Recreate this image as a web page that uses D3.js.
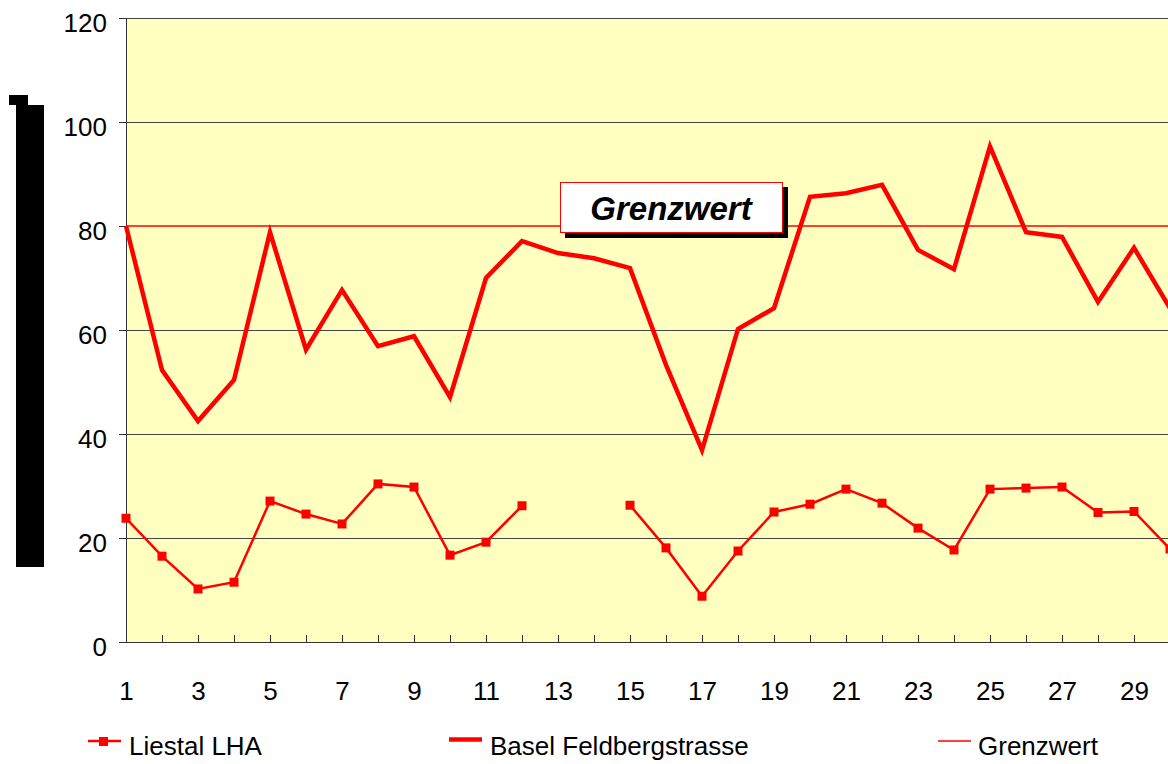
<!DOCTYPE html>
<html>
<head>
<meta charset="utf-8">
<script src="https://cdn.jsdelivr.net/npm/d3@7"></script>
<style>
  body { margin: 0; background: #fff; }
  svg { display: block; font-family: Arial, "Liberation Sans", sans-serif; }
</style>
</head>
<body>
<div id="chart"></div>
<script>
// days of the month
const days = d3.range(1, 31);
const xTickLabels = [1, 3, 5, 7, 9, 11, 13, 15, 17, 19, 21, 23, 25, 27, 29];
const yTicks = [0, 20, 40, 60, 80, 100, 120];

// Liestal LHA (null = no measurement)
const liestal = [23.8, 16.5, 10.2, 11.5, 27.1, 24.6, 22.7, 30.4, 29.8, 16.7,
  19.2, 26.2, null, null, 26.3, 18.1, 8.8, 17.5, 25.0, 26.5,
  29.4, 26.7, 21.9, 17.7, 29.4, 29.6, 29.8, 24.9, 25.1, 17.9];

// Basel Feldbergstrasse
const basel = [80.0, 52.3, 42.5, 50.4, 78.8, 56.2, 67.7, 56.9, 58.8, 47.1,
  70.0, 77.1, 74.8, 73.8, 71.9, 53.3, 36.9, 60.2, 64.2, 85.6,
  86.3, 87.9, 75.4, 71.7, 95.3, 78.8, 77.9, 65.4, 75.8, 64.2];

const grenzwert = 80;

const width = 1168, height = 764;
const plotLeft = 126, plotTop = 18, plotBottom = 642;

const svg = d3.select("#chart").append("svg")
  .attr("width", width)
  .attr("height", height);

const x = d3.scaleLinear().domain([1, 30]).range([plotLeft, plotLeft + 29 * 36]);
const y = d3.scaleLinear().domain([0, 120]).range([plotBottom, plotTop]);

// plot background
svg.append("rect")
  .attr("x", plotLeft).attr("y", plotTop)
  .attr("width", width - plotLeft + 10).attr("height", plotBottom - plotTop)
  .attr("fill", "#ffffc0");

// black block left of the axis
svg.append("rect").attr("x", 9).attr("y", 95).attr("width", 19).attr("height", 10).attr("fill", "#000");
svg.append("rect").attr("x", 16).attr("y", 105).attr("width", 28).attr("height", 462).attr("fill", "#000");

// gridlines
svg.append("g")
  .selectAll("line")
  .data(yTicks.filter(d => d > 0 && d !== grenzwert))
  .join("line")
  .attr("x1", plotLeft).attr("x2", width)
  .attr("y1", d => y(d) + 0.5).attr("y2", d => y(d) + 0.5)
  .attr("stroke", "#444")
  .attr("stroke-width", 1);

// y axis
const yAxis = svg.append("g")
  .attr("transform", `translate(${plotLeft},0)`)
  .call(d3.axisLeft(y).tickValues(yTicks).tickSize(7).tickPadding(12));
yAxis.select(".domain").attr("stroke", "#333").attr("d", `M0.5,${plotTop}V${plotBottom}`);
yAxis.selectAll(".tick line").attr("stroke", "#333");
yAxis.selectAll("text")
  .attr("font-size", 26).attr("fill", "#000")
  .attr("font-family", "Arial, 'Liberation Sans', sans-serif")
  .attr("dy", "0.5em");

// x axis, ticks inside
const xAxis = svg.append("g")
  .attr("transform", `translate(0,${plotBottom})`)
  .call(d3.axisBottom(x).tickValues(days).tickSize(-7).tickFormat(d => xTickLabels.includes(d) ? d : ""));
xAxis.select(".domain").attr("stroke", "#333").attr("d", `M${plotLeft},0.5H${width}`);
xAxis.selectAll(".tick line").attr("stroke", "#333");
xAxis.selectAll("text")
  .attr("font-size", 26).attr("fill", "#000")
  .attr("font-family", "Arial, 'Liberation Sans', sans-serif")
  .attr("y", 58).attr("dy", 0);

// Grenzwert line
svg.append("path")
  .datum(days)
  .attr("fill", "none")
  .attr("stroke", "#ff0000")
  .attr("stroke-width", 1.5)
  .attr("d", d3.line().x(d => x(d)).y(() => y(grenzwert)));

// Basel line
svg.append("path")
  .datum(basel)
  .attr("fill", "none")
  .attr("stroke", "#ff0000")
  .attr("stroke-width", 4.5)
  .attr("stroke-linejoin", "miter")
  .attr("d", d3.line().x((d, i) => x(days[i])).y(d => y(d)));

// Liestal line + markers
svg.append("path")
  .datum(liestal)
  .attr("fill", "none")
  .attr("stroke", "#ff0000")
  .attr("stroke-width", 2.5)
  .attr("d", d3.line().defined(d => d !== null).x((d, i) => x(days[i])).y(d => y(d)));

svg.append("g")
  .selectAll("rect")
  .data(liestal.map((v, i) => ({ day: days[i], v })).filter(d => d.v !== null))
  .join("rect")
  .attr("x", d => x(d.day) - 4.5)
  .attr("y", d => y(d.v) - 4.5)
  .attr("width", 9).attr("height", 9)
  .attr("fill", "#ff0000");

// Grenzwert label box
const box = svg.append("g");
box.append("rect").attr("x", 565).attr("y", 187).attr("width", 223).attr("height", 51).attr("fill", "#000");
box.append("rect").attr("x", 560.5).attr("y", 182.5).attr("width", 222).attr("height", 50)
  .attr("fill", "#fff").attr("stroke", "#ff0000").attr("stroke-width", 1);
box.append("text")
  .attr("x", 671).attr("y", 220)
  .attr("text-anchor", "middle")
  .attr("font-size", 33).attr("font-weight", "bold").attr("font-style", "italic")
  .text("Grenzwert");

// legend
const legend = svg.append("g").attr("font-size", 26);
legend.append("line").attr("x1", 88).attr("x2", 121).attr("y1", 741).attr("y2", 741)
  .attr("stroke", "#ff0000").attr("stroke-width", 2.5);
legend.append("rect").attr("x", 99).attr("y", 737).attr("width", 9).attr("height", 9).attr("fill", "#ff0000");
legend.append("text").attr("x", 129).attr("y", 755).text("Liestal LHA");

legend.append("line").attr("x1", 449).attr("x2", 482).attr("y1", 739.5).attr("y2", 739.5)
  .attr("stroke", "#ff0000").attr("stroke-width", 4.5);
legend.append("text").attr("x", 490).attr("y", 755).text("Basel Feldbergstrasse");

legend.append("line").attr("x1", 938).attr("x2", 971).attr("y1", 741).attr("y2", 741)
  .attr("stroke", "#ff0000").attr("stroke-width", 1.5);
legend.append("text").attr("x", 978).attr("y", 755).text("Grenzwert");
</script>
</body>
</html>
